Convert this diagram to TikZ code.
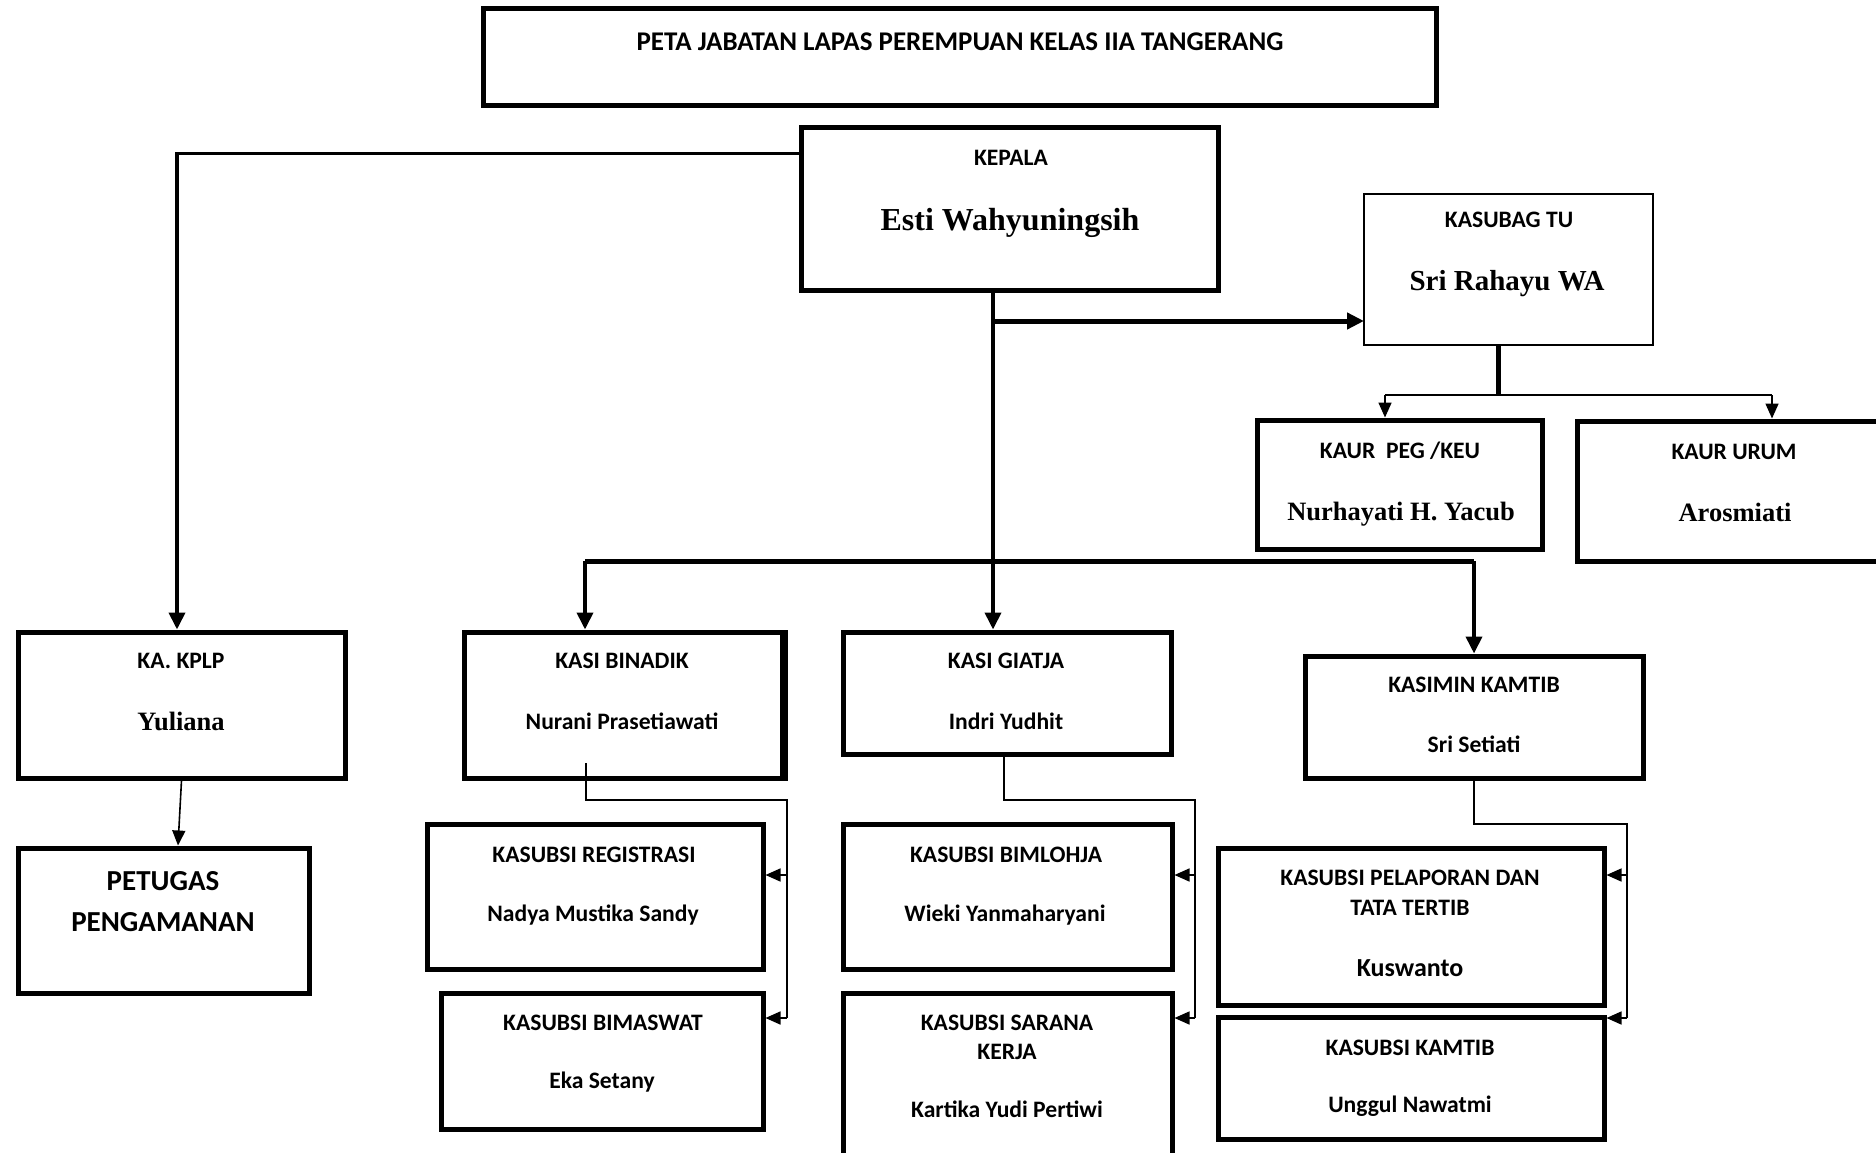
\documentclass[tikz,border=0pt]{standalone}
\usepackage{fontspec}
\setmainfont{Carlito}
\newfontfamily\tnr{Liberation Serif}
\usetikzlibrary{arrows.meta,fit}
\tikzset{
  bx/.style={draw, line width=5pt, rectangle, inner sep=0pt},
  bxthin/.style={draw, line width=1.8pt, rectangle, inner sep=0pt},
  lab/.style={inner sep=0pt, text height=0.66em, text depth=0pt, yshift=-5pt, font=\bfseries\fontsize{23.6}{27}\selectfont},
  labbig/.style={lab, yshift=-1.5pt, font=\bfseries\fontsize{29}{33}\selectfont},
  labmid/.style={lab, font=\bfseries\fontsize{26}{30}\selectfont},
  tnm/.style={lab, yshift=-1.5pt, font=\tnr\bfseries\fontsize{26.5}{30}\selectfont},
  tnmbig/.style={lab, yshift=-2pt, font=\tnr\bfseries\fontsize{32}{36}\selectfont},
  tnmmid/.style={lab, yshift=-1.5pt, font=\tnr\bfseries\fontsize{29}{33}\selectfont},
  thk/.style={line width=3.8pt},
  thkk/.style={line width=5pt},
  thn/.style={line width=1.6pt},
  bigtip/.style={-{Triangle[length=17pt,width=16pt]}},
  smalltip/.style={-{Triangle[length=15pt,width=13pt]}},
}
\begin{document}
\begin{tikzpicture}[x=1pt,y=-1pt]
\useasboundingbox (0,0) rectangle (1876,1153);
\fill[white] (0,0) rectangle (1876,1153);

% boxes
\node[bx, fit={(483,9) (1436,106)}] (title) {};
\node[bx, fit={(801,128) (1218,290)}] (kepala) {};
\node[bxthin, fit={(1364,194) (1653,345)}] (kasubag) {};
\node[bx, fit={(1257,420) (1542,549)}] (kaurpeg) {};
\node[bx, fit={(1577,421) (1893,561)}] (kaurum) {};
\node[bx, fit={(18,632) (345,778)}] (kplp) {};
\node[bx, fit={(18,848) (309,993)}] (petugas) {};
\node[bx, fit={(464,632) (782,778)}] (binadik) {};
\node[bx, fit={(843,632) (1171,754)}] (giatja) {};
\node[bx, fit={(1305,656) (1643,778)}] (kasimin) {};
\node[bx, fit={(427,824) (763,969)}] (reg) {};
\node[bx, fit={(441,993) (763,1129)}] (bimaswat) {};
\node[bx, fit={(843,824) (1172,969)}] (bimlohja) {};
\node[bx, fit={(843,993) (1172,1180)}] (sarana) {};
\node[bx, fit={(1218,848) (1604,1005)}] (pelaporan) {};
\node[bx, fit={(1218,1017) (1604,1139)}] (kamtib) {};
\draw[line width=4pt] ([xshift=1.5pt]binadik.south east) -- ([xshift=1.5pt]binadik.north east);

% texts
\node[lab, font=\bfseries\fontsize{27}{31}\selectfont] (titleT) at (960,42) {PETA JABATAN LAPAS PEREMPUAN KELAS IIA TANGERANG};
\node[lab] (kepalaT) at (1011,157) {KEPALA};
\node[tnmbig] (kepalaN) at (1010,220) {Esti Wahyuningsih};
\node[lab] (kasubagT) at (1509,219) {KASUBAG TU};
\node[tnmmid] (kasubagN) at (1507,281) {Sri Rahayu WA};
\node[lab] (kaurpegT) at (1400,450) {KAUR\ \ PEG /KEU};
\node[tnm] (kaurpegN) at (1401,511) {Nurhayati H. Yacub};
\node[lab] (kaurumT) at (1734,451) {KAUR URUM};
\node[tnm] (kaurumN) at (1735,512) {Arosmiati};
\node[lab] (kplpT) at (181,660) {KA. KPLP};
\node[tnm] (kplpN) at (181,721) {Yuliana};
\node[labbig] (petugasT1) at (163,881) {PETUGAS};
\node[labbig] (petugasT2) at (163,922) {PENGAMANAN};
\node[lab] (binadikT) at (622,660) {KASI BINADIK};
\node[lab] (binadikN) at (622,721) {Nurani Prasetiawati};
\node[lab] (giatjaT) at (1006,660) {KASI GIATJA};
\node[lab] (giatjaN) at (1006,721) {Indri Yudhit};
\node[lab] (kasiminT) at (1474,684) {KASIMIN KAMTIB};
\node[lab] (kasiminN) at (1474,744) {Sri Setiati};
\node[lab] (regT) at (594,854) {KASUBSI REGISTRASI};
\node[lab] (regN) at (593,913) {Nadya Mustika Sandy};
\node[lab] (bimaswatT) at (603,1022) {KASUBSI BIMASWAT};
\node[lab] (bimaswatN) at (602,1080) {Eka Setany};
\node[lab] (bimlohjaT) at (1006,854) {KASUBSI BIMLOHJA};
\node[lab] (bimlohjaN) at (1005,913) {Wieki Yanmaharyani};
\node[lab] (saranaT1) at (1007,1022) {KASUBSI SARANA};
\node[lab] (saranaT2) at (1007,1051) {KERJA};
\node[lab] (saranaN) at (1007,1109) {Kartika Yudi Pertiwi};
\node[lab] (pelaporanT1) at (1410,877) {KASUBSI PELAPORAN DAN};
\node[lab] (pelaporanT2) at (1410,907) {TATA TERTIB};
\node[labmid] (pelaporanN) at (1410,968) {Kuswanto};
\node[lab] (kamtibT) at (1410,1047) {KASUBSI KAMTIB};
\node[lab] (kamtibN) at (1410,1104) {Unggul Nawatmi};

% main connectors
\coordinate (spine) at (993,0);
\coordinate (tuin) at (1364,321);
\coordinate (barL) at (585,561);
\coordinate (barR) at (1474,561);
\coordinate (tuB) at (1498,395);
\coordinate (tuL) at (1385,395);
\coordinate (tuR) at (1772,395);

\draw[thk, bigtip] ([yshift=-28pt]kepala.north west) -| ([xshift=-4.5pt]kplp.north);
\draw[thk, bigtip] (kepala.south -| spine) -- (giatja.north -| spine);
\draw[thkk, bigtip] (spine |- tuin) -- (tuin);
\draw[thkk] (barL) -- (barR);
\draw[thk, bigtip] (barL) -- (barL |- binadik.north);
\draw[thk, bigtip] (barR) -- (kasimin.north);

\draw[thkk] (tuB |- kasubag.south) -- (tuB);
\draw[thn] (tuL) -- (tuR);
\draw[thn, smalltip] (tuL) -- (tuL |- kaurpeg.north);
\draw[thn, smalltip] (tuR) -- (tuR |- kaurum.north);

\draw[thn, smalltip] (kplp.south) -- ([xshift=14.5pt]petugas.north);

% binadik branch
\coordinate (b0) at (586,763);
\coordinate (b2) at (787,800);
\coordinate (b4) at (787,875);
\coordinate (b3) at (787,1018);
\draw[thn] (b0) |- (b2) -- (b3);
\draw[thn, smalltip] (b4) -- (b4 -| reg.east);
\draw[thn, smalltip] (b3) -- (b3 -| bimaswat.east);

% giatja branch
\coordinate (g1) at (1004,800);
\coordinate (g2) at (1195,800);
\coordinate (g4) at (1195,875);
\coordinate (g3) at (1195,1018);
\draw[thn] (giatja.south -| g1) -- (g1) -- (g2) -- (g3);
\draw[thn, smalltip] (g4) -- (g4 -| bimlohja.east);
\draw[thn, smalltip] (g3) -- (g3 -| sarana.east);

% kasimin branch
\coordinate (k1) at (1474,824);
\coordinate (k2) at (1627,824);
\coordinate (k4) at (1627,875);
\coordinate (k3) at (1627,1018);
\draw[thn] (kasimin.south) -- (k1) -- (k2) -- (k3);
\draw[thn, smalltip] (k4) -- (k4 -| pelaporan.east);
\draw[thn, smalltip] (k3) -- (k3 -| kamtib.east);
\end{tikzpicture}
\end{document}
